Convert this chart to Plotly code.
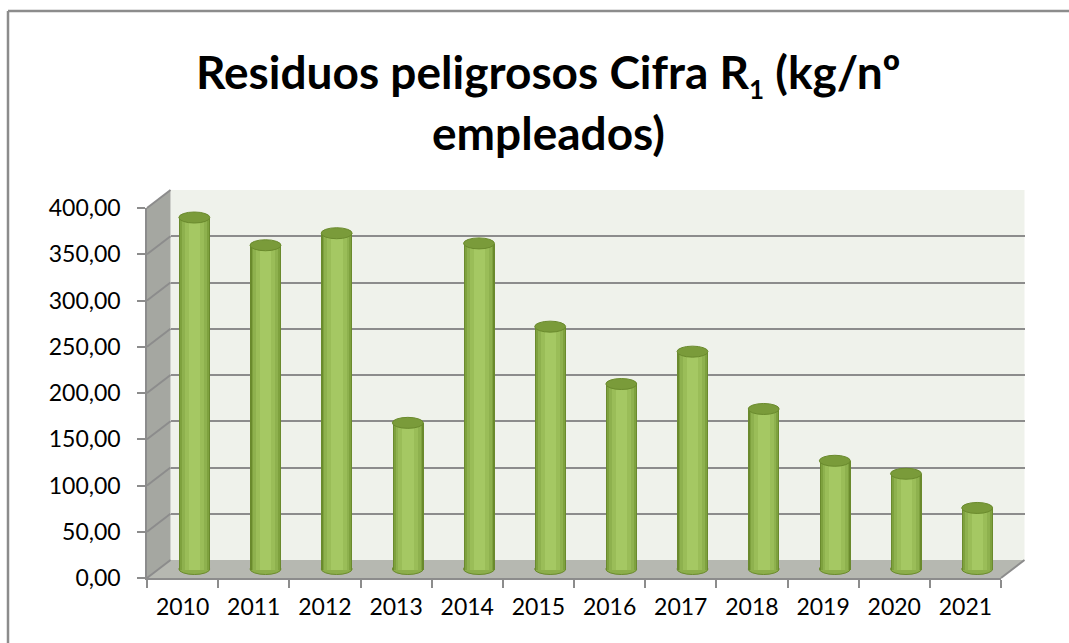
import plotly.graph_objects as go

# ---------------- data ----------------
years = ["2010", "2011", "2012", "2013", "2014", "2015",
         "2016", "2017", "2018", "2019", "2020", "2021"]
values = [380, 350, 363, 158, 352, 262, 200, 235, 173, 117, 103, 66]
y_ticks = [0, 50, 100, 150, 200, 250, 300, 350, 400]
title_line1 = "Residuos peligrosos Cifra R<sub><span style='font-size:26px'>1</span></sub> (kg/nº"
title_line2 = "empleados)"

# ---------------- geometry (pixels) ----------------
W, H = 1069, 643
FX0, FX1 = 147, 1001          # front floor edge (x)
FY0, FYT = 578, 208           # front: value 0 / value 400 (y)
DX, DY = 23.5, -18            # depth offset to back wall
YMAX = 400
SCALE = (FY0 - FYT) / YMAX    # px per unit


def px(x):
    return x / W


def py(y):
    return 1 - y / H


GRID = "#8c8c8c"
FONT = "Lato"

fig = go.Figure()

# invisible trace to build the front category axis
fig.add_trace(go.Scatter(x=years, y=values, mode="markers",
                         marker=dict(opacity=0), hoverinfo="skip",
                         showlegend=False, xaxis="x", yaxis="y"))
# invisible trace for back wall axes
fig.add_trace(go.Scatter(x=years, y=values, mode="markers",
                         marker=dict(opacity=0), hoverinfo="skip",
                         showlegend=False, xaxis="x2", yaxis="y2"))

# cylinders: layered bars to fake shading
BW = 0.435
layers = [
    (BW, "#6a8a2d"),
    (0.40, "#7ea13e"),
    (0.35, "#8eb14e"),
    (0.27, "#9abd58"),
    (0.16, "#a5c863"),
]
for w, c in layers:
    fig.add_trace(go.Bar(x=years, y=values, width=w, marker_color=c,
                         marker_line_width=0, hoverinfo="skip",
                         showlegend=False, xaxis="x3", yaxis="y3"))

shapes = []
# back wall
shapes.append(dict(type="rect", xref="paper", yref="paper", layer="below",
                   x0=px(FX0 + DX), x1=px(FX1 + DX), y0=py(FY0 + DY), y1=py(FYT + DY),
                   fillcolor="#eff2eb", line_width=0))
# left wall
shapes.append(dict(type="path", xref="paper", yref="paper", layer="below",
                   path=f"M {px(FX0)} {py(FYT)} L {px(FX0 + DX)} {py(FYT + DY)} "
                        f"L {px(FX0 + DX)} {py(FY0 + DY)} L {px(FX0)} {py(FY0)} Z",
                   fillcolor="#a5a7a1", line_width=0))
# floor
shapes.append(dict(type="path", xref="paper", yref="paper", layer="below",
                   path=f"M {px(FX0)} {py(FY0)} L {px(FX0 + DX)} {py(FY0 + DY)} "
                        f"L {px(FX1 + DX)} {py(FY0 + DY)} L {px(FX1)} {py(FY0)} Z",
                   fillcolor="#b6b8b1", line_width=0))
# floor right edge
shapes.append(dict(type="line", xref="paper", yref="paper", layer="below",
                   x0=px(FX1), y0=py(FY0), x1=px(FX1 + DX), y1=py(FY0 + DY),
                   line=dict(color=GRID, width=2)))
# left wall diagonal gridlines
for t in y_ticks:
    yf = FY0 - t * SCALE
    shapes.append(dict(type="line", xref="paper", yref="paper", layer="below",
                       x0=px(FX0), y0=py(yf), x1=px(FX0 + DX), y1=py(yf + DY),
                       line=dict(color=GRID, width=2)))

# cylinder tops and bottoms
EH = 5.5 / SCALE
for i, v in enumerate(values):
    shapes.append(dict(type="circle", xref="x3", yref="y3", layer="below",
                       x0=i - BW / 2, x1=i + BW / 2, y0=-EH, y1=EH,
                       fillcolor="#8cae4b", line=dict(color="#6a8a2d", width=1)))
    shapes.append(dict(type="circle", xref="x3", yref="y3", layer="above",
                       x0=i - BW / 2, x1=i + BW / 2, y0=v - EH, y1=v + EH,
                       fillcolor="#7a9b3a", line=dict(color="#6a8a2d", width=1)))

# outer border (left and top)
shapes.append(dict(type="line", xref="paper", yref="paper",
                   x0=px(8), y0=py(11), x1=px(8), y1=0,
                   line=dict(color=GRID, width=2.5)))
shapes.append(dict(type="line", xref="paper", yref="paper",
                   x0=px(8), y0=py(11), x1=1, y1=py(11),
                   line=dict(color=GRID, width=2.5)))

annotations = [
    dict(text=title_line1, xref="paper", yref="paper", x=px(548), y=py(74),
         xanchor="center", yanchor="middle", showarrow=False,
         font=dict(family=FONT, size=46, color="#000000", weight="bold")),
    dict(text=title_line2, xref="paper", yref="paper", x=px(548), y=py(133),
         xanchor="center", yanchor="middle", showarrow=False,
         font=dict(family=FONT, size=46, color="#000000", weight="bold")),
]

MID_DX, MID_DY = DX / 2, DY / 2
y3_lo, y3_hi = -20, 420

fig.update_layout(
    template="none",
    width=W, height=H, autosize=False,
    margin=dict(l=0, r=0, t=0, b=0, pad=0, autoexpand=False),
    paper_bgcolor="white", plot_bgcolor="rgba(0,0,0,0)",
    separators=",.",
    barmode="overlay", bargap=0,
    showlegend=False,
    shapes=shapes, annotations=annotations,
    font=dict(family=FONT, size=23, color="#000000"),
    xaxis=dict(domain=[px(FX0), px(FX1)], type="category", range=[-0.5, 11.5],
               anchor="y", showline=True, linecolor=GRID, linewidth=2,
               ticks="outside", tickson="boundaries", ticklen=8, tickcolor=GRID,
               tickwidth=1.5, showgrid=False, zeroline=False, automargin=False,
               ticklabelstandoff=7, tickfont=dict(family=FONT, size=23)),
    yaxis=dict(domain=[py(FY0), py(FYT)], range=[0, YMAX], anchor="x",
               tickvals=y_ticks, tickformat=".2f", showline=True, linecolor=GRID,
               linewidth=1.5, ticks="outside", ticklen=8, tickcolor=GRID,
               tickwidth=1.5, showgrid=False, zeroline=False, automargin=False,
               ticklabelstandoff=12, tickfont=dict(family=FONT, size=23)),
    xaxis2=dict(domain=[px(FX0 + DX), px(FX1 + DX)], type="category",
                range=[-0.5, 11.5], anchor="y2", visible=False, automargin=False),
    yaxis2=dict(domain=[py(FY0 + DY), py(FYT + DY)], range=[0, YMAX], anchor="x2",
                tickvals=y_ticks, showticklabels=False, ticks="", automargin=False,
                showgrid=True, gridcolor=GRID, gridwidth=2, zeroline=False,
                showline=False),
    xaxis3=dict(domain=[px(FX0 + MID_DX), px(FX1 + MID_DX)], type="category",
                range=[-0.5, 11.5], anchor="y3", visible=False, automargin=False),
    yaxis3=dict(domain=[py(FY0 + MID_DY - y3_lo * SCALE), py(FY0 + MID_DY - y3_hi * SCALE)],
                range=[y3_lo, y3_hi], anchor="x3", visible=False, automargin=False),
)

fig.write_html("out.html",
               config={"displayModeBar": False},
               post_script="document.body.style.margin='0';"
                           "document.body.style.overflow='hidden';")
